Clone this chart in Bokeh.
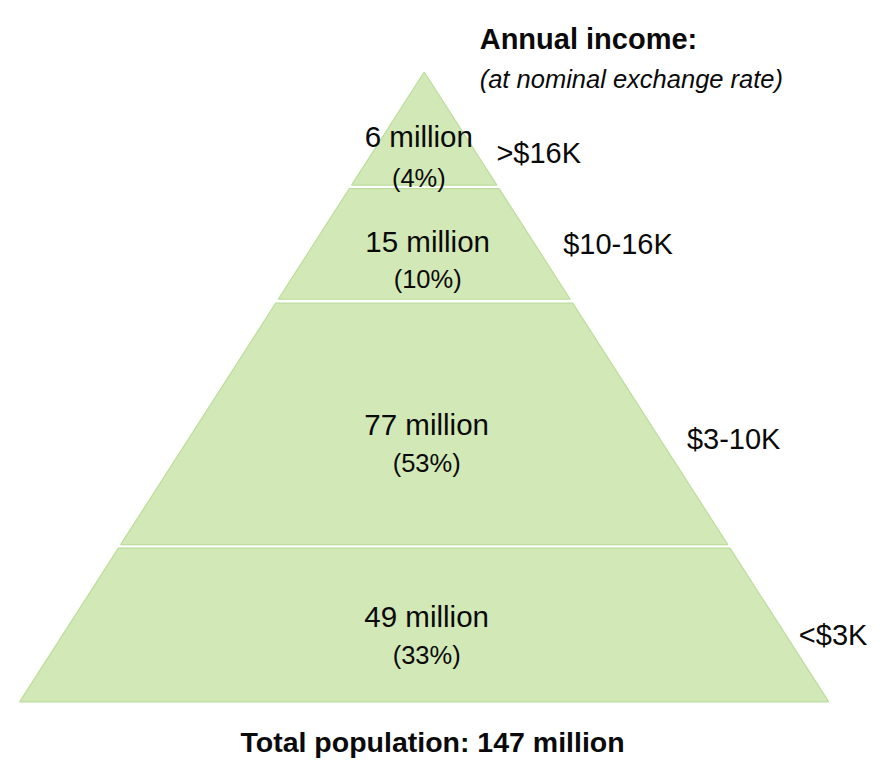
from bokeh.plotting import figure
from bokeh.models import Range1d, ColumnDataSource
from bokeh.core.properties import value
from bokeh.embed import file_html
from bokeh.resources import INLINE

# ---- data ----
populations = ["6 million", "15 million", "77 million", "49 million"]
shares = ["(4%)", "(10%)", "(53%)", "(33%)"]
income_bands = [">$16K", "$10-16K", "$3-10K", "<$3K"]
title_text = "Total population: 147 million"
header = "Annual income:"
subheader = "(at nominal exchange rate)"

# ---- layout (reference coordinate frame 887 x 783) ----
REF_W, REF_H = 887, 783
APEX = (431.5, 73.0)
BASE_Y = 716.0
HALF_BASE = 412.0
band_tops = [73.0, 192.0, 309.0, 559.0]
band_bottoms = [188.5, 305.0, 555.5, 716.0]
label_x = [426, 435, 434, 434]
pop_base = [139, 246, 433, 629]
share_base = [181, 284, 472, 668]
income_x = [505, 573, 699, 813]
income_base = [156, 249, 448, 648]

FONT = "'Liberation Sans', Arial, sans-serif"

W, H = 871, 767
S = W / REF_W  # font scale

def fs(px):
    return "%.1fpx" % (px * S)

p = figure(width=W, height=H, output_backend="svg", toolbar_location=None,
           x_range=Range1d(0, REF_W), y_range=Range1d(REF_H, 0),
           min_border=0, outline_line_color=None)
p.axis.visible = False
p.grid.visible = False
p.background_fill_color = "white"
p.border_fill_color = "white"

slope = HALF_BASE / (BASE_Y - APEX[1])

def half_w(y):
    return (y - APEX[1]) * slope

xs, ys = [], []
for t, b in zip(band_tops, band_bottoms):
    ht, hb = half_w(t), half_w(b)
    xs.append([APEX[0] - ht, APEX[0] + ht, APEX[0] + hb, APEX[0] - hb])
    ys.append([t, t, b, b])
p.patches(xs, ys, fill_color="#d2e8b6", line_color="#bcdd9c", line_width=1.2)

TXT = "#0a0a0a"
src = ColumnDataSource(dict(x=label_x, py=pop_base, sy=share_base, pop=populations, share=shares))
p.text(x="x", y="py", text="pop", source=src, text_font=value(FONT),
       text_font_size=fs(30), text_align="center", text_baseline="alphabetic", text_color=TXT)
p.text(x="x", y="sy", text="share", source=src, text_font=value(FONT),
       text_font_size=fs(26), text_align="center", text_baseline="alphabetic", text_color=TXT)

src2 = ColumnDataSource(dict(x=income_x, y=income_base, t=income_bands))
p.text(x="x", y="y", text="t", source=src2, text_font=value(FONT),
       text_font_size=fs(29.5), text_align="left", text_baseline="alphabetic", text_color=TXT)

p.text(x=[488], y=[39], text=[header], text_font=value(FONT), text_font_size=fs(29.5),
       text_font_style="bold", text_align="left", text_baseline="alphabetic", text_color=TXT)
p.text(x=[488], y=[80], text=[subheader], text_font=value(FONT), text_font_size=fs(26),
       text_font_style="italic", text_align="left", text_baseline="alphabetic", text_color=TXT)
p.text(x=[440], y=[757], text=[title_text], text_font=value(FONT), text_font_size=fs(29),
       text_font_style="bold", text_align="center", text_baseline="alphabetic", text_color=TXT)

open("out.html", "w").write(file_html(p, INLINE))
